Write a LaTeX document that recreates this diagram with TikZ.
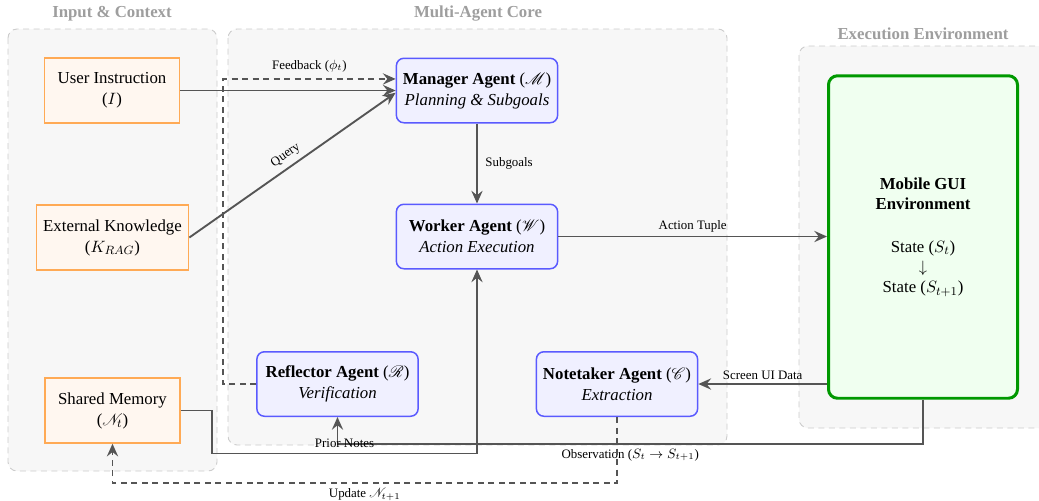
\documentclass[tikz,border=0pt]{standalone}
\IfFileExists{mathrsfs.sty}{\usepackage{mathrsfs}}{\let\mathscr\mathcal}
\usepackage{fontspec}
\setmainfont{Liberation Serif}
\usetikzlibrary{arrows.meta}
\definecolor{grpF}{HTML}{F7F7F7}
\definecolor{grpB}{HTML}{CCCCCC}
\definecolor{titleC}{HTML}{9E9E9E}
\definecolor{orangeB}{HTML}{FFAA55}
\definecolor{orangeF}{HTML}{FFF7F0}
\definecolor{blueB}{HTML}{5A5AFF}
\definecolor{blueF}{HTML}{F0F0FF}
\definecolor{greenB}{HTML}{009900}
\definecolor{greenF}{HTML}{F0FFF0}
\definecolor{arrowC}{HTML}{555555}
\newcommand{\mainsz}{\fontsize{11.2}{14}\selectfont}
\newcommand{\lblsz}{\fontsize{8.6}{10}\selectfont}
\tikzset{
  grp/.style={draw=grpB, fill=grpF, dashed, dash pattern=on 4pt off 3pt, line width=0.6pt, rounded corners=6pt},
  grptitle/.style={text=titleC, font=\mainsz\bfseries},
  inbox/.style={draw=orangeB, fill=orangeF, line width=1pt, minimum height=43.3pt, align=center, font=\mainsz, inner sep=2pt},
  agent/.style={draw=blueB, fill=blueF, line width=1pt, rounded corners=5pt, minimum width=107.5pt, minimum height=43pt, align=center, font=\mainsz, inner sep=2pt},
  envbox/.style={draw=greenB, fill=greenF, line width=2pt, rounded corners=6pt, minimum width=126pt, minimum height=215pt, align=center, font=\fontsize{11.2}{13.5}\selectfont},
  flow/.style={draw=arrowC, line width=1.25pt, -{Stealth[length=8.5pt,width=7.5pt,inset=3pt]}},
  dflow/.style={flow, dash pattern=on 4pt off 3pt},
  lbl/.style={font=\lblsz, text=black, inner sep=2pt}
}
\begin{document}
\begin{tikzpicture}[x=0.6667pt, y=-0.6667pt]
\useasboundingbox (0,0) rectangle (1039,500);
% groups
\draw[grp] (8,29) rectangle (217,471);
\draw[grp] (228,29) rectangle (727,445);
\draw[grp] (799,46) rectangle (1060,428);
\node[grptitle] (t1) at (112,14) {Input \& Context};
\node[grptitle] (t2) at (478,14) {Multi-Agent Core};
\node[grptitle] (t3) at (923,34) {Execution Environment};
% input nodes
\node[inbox, minimum width=90pt] (ui) at (112,90.5) {User Instruction\\($I$)};
\node[inbox, minimum width=101.5pt] (ek) at (112.5,237.5) {External Knowledge\\($K_{RAG}$)};
\node[inbox, minimum width=90pt] (sm) at (112.5,410.5) {Shared Memory\\($\mathscr{N}_t$)};
% agents
\node[agent] (mgr) at (477,90.5) {\textbf{Manager Agent} ($\mathscr{M}$)\\\textit{Planning \& Subgoals}};
\node[agent] (wkr) at (477,236.5) {\textbf{Worker Agent} ($\mathscr{W}$)\\\textit{Action Execution}};
\node[agent] (rfl) at (337.5,384) {\textbf{Reflector Agent} ($\mathscr{R}$)\\\textit{Verification}};
\node[agent] (nte) at (617,384) {\textbf{Notetaker Agent} ($\mathscr{C}$)\\\textit{Extraction}};
% environment
\node[envbox] (gui) at (923,237) {\textbf{Mobile GUI}\\\textbf{Environment}\\[15pt]State ($S_t$)\\$\downarrow$\\State ($S_{t+1}$)};
% connectors
\draw[flow] (ui.east) -- (mgr.west |- ui.east);
\draw[dflow] (rfl.west) -- ++(-33,0) |- ([yshift=7.7pt]mgr.west)
  node[lbl, pos=0.75, above=2pt] {Feedback ($\phi_t$)};
\draw[flow] (ek.east) -- ([yshift=-1.5pt]mgr.west)
  node[lbl, pos=0.5, sloped, above=1.5pt] {Query};
\draw[flow] (mgr.south) -- (wkr.north) node[lbl, midway, right=3pt] {Subgoals};
\draw[flow] (wkr.east) -- (gui.west |- wkr.east) node[lbl, midway, above] {Action Tuple};
\draw[flow] (gui.west |- nte.east) -- (nte.east) node[lbl, midway, above] {Screen UI Data};
\draw[flow] (gui.south) -- ++(0,44) -| (rfl.south)
  node[lbl, pos=0.25, below=1pt] {Observation ($S_t \rightarrow S_{t+1}$)}
  node[lbl, pos=0.494] {Prior Notes};
\coordinate (smc) at (212,453.5);
\draw[flow] (sm.east) -| (smc) -| (wkr.south);
\draw[dflow] (nte.south) -- ++(0,66) -| (sm.south)
  node[lbl, pos=0.25, below=1pt] {Update $\mathscr{N}_{t+1}$};
\end{tikzpicture}
\end{document}
